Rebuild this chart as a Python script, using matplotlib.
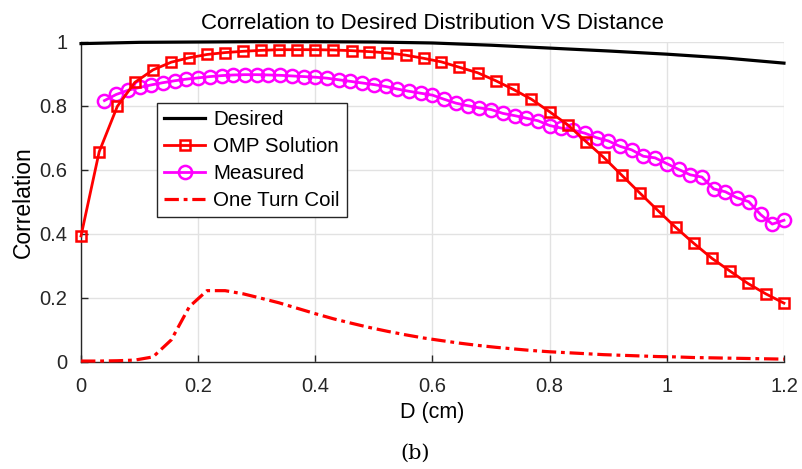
import matplotlib
matplotlib.use("Agg")
import matplotlib.pyplot as plt
from matplotlib.ticker import FuncFormatter

plt.rcParams['font.family'] = ['Liberation Sans', 'DejaVu Sans']

# OMP / One-turn-coil grid (40 samples from 0 to 1.2)
x_omp = [0.000, 0.031, 0.062, 0.092, 0.123, 0.154, 0.185, 0.215, 0.246, 0.277,
         0.308, 0.338, 0.369, 0.400, 0.431, 0.462, 0.492, 0.523, 0.554, 0.585,
         0.615, 0.646, 0.677, 0.708, 0.738, 0.769, 0.800, 0.831, 0.862, 0.892,
         0.923, 0.954, 0.985, 1.015, 1.046, 1.077, 1.108, 1.138, 1.169, 1.200]
omp = [0.393, 0.656, 0.798, 0.873, 0.912, 0.936, 0.950, 0.960, 0.966, 0.970,
       0.973, 0.975, 0.975, 0.975, 0.974, 0.972, 0.969, 0.965, 0.958, 0.948,
       0.937, 0.920, 0.903, 0.878, 0.851, 0.820, 0.781, 0.740, 0.688, 0.639,
       0.583, 0.527, 0.472, 0.420, 0.370, 0.323, 0.283, 0.245, 0.212, 0.183]
coil = [0.002, 0.002, 0.003, 0.005, 0.015, 0.068, 0.172, 0.222, 0.222, 0.212,
        0.198, 0.184, 0.167, 0.150, 0.134, 0.120, 0.107, 0.095, 0.084, 0.074,
        0.066, 0.058, 0.051, 0.045, 0.040, 0.035, 0.031, 0.028, 0.025, 0.022,
        0.020, 0.018, 0.016, 0.015, 0.013, 0.012, 0.011, 0.010, 0.009, 0.008]

# Desired
x_des = [0.0, 0.1, 0.2, 0.3, 0.4, 0.5, 0.6, 0.7, 0.8, 0.9, 1.0, 1.1, 1.2]
desired = [0.994, 0.998, 0.999, 1.000, 1.000, 0.999, 0.996, 0.989, 0.980, 0.971, 0.961, 0.949, 0.933]

# Measured
x_meas = [0.04, 0.06, 0.08, 0.10, 0.12, 0.14, 0.16, 0.18, 0.20, 0.22,
          0.24, 0.26, 0.28, 0.30, 0.32, 0.34, 0.36, 0.38, 0.40, 0.42,
          0.44, 0.46, 0.48, 0.50, 0.52, 0.54, 0.56, 0.58, 0.60, 0.62,
          0.64, 0.66, 0.68, 0.70, 0.72, 0.74, 0.76, 0.78, 0.80, 0.82,
          0.84, 0.86, 0.88, 0.90, 0.92, 0.94, 0.96, 0.98, 1.00, 1.02,
          1.04, 1.06, 1.08, 1.10, 1.12, 1.14, 1.16, 1.18, 1.20]
measured = [0.816, 0.835, 0.848, 0.857, 0.865, 0.872, 0.878, 0.883, 0.887, 0.891,
            0.894, 0.896, 0.897, 0.897, 0.896, 0.895, 0.893, 0.891, 0.889, 0.886,
            0.881, 0.876, 0.871, 0.866, 0.860, 0.852, 0.845, 0.839, 0.833, 0.820,
            0.808, 0.800, 0.793, 0.788, 0.776, 0.769, 0.761, 0.753, 0.738, 0.730,
            0.724, 0.714, 0.700, 0.690, 0.673, 0.662, 0.642, 0.637, 0.619, 0.601,
            0.584, 0.577, 0.540, 0.531, 0.512, 0.500, 0.460, 0.430, 0.442]

x_ticks = [0, 0.2, 0.4, 0.6, 0.8, 1.0, 1.2]
y_ticks = [0, 0.2, 0.4, 0.6, 0.8, 1.0]

fig = plt.figure(figsize=(8.03, 4.69), dpi=100)
ax = fig.add_axes([0.1009, 0.2288, 0.8754, 0.6823])

ax.plot(x_des, desired, color='black', lw=2.3, label='Desired', zorder=3,
        clip_on=False)
ax.plot(x_omp, omp, color='red', lw=2.0, marker='s', ms=7.5, mfc='none',
        mec='red', mew=1.8, label='OMP Solution', zorder=4, clip_on=False)
ax.plot(x_meas, measured, color='#ff00ff', lw=2.0, marker='o', ms=9.5, mfc='none',
        mec='#ff00ff', mew=1.8, label='Measured', zorder=3, clip_on=False)
ax.plot(x_omp, coil, color='red', lw=2.3, ls=(0, (4.5, 1.5, 1.2, 1.5)),
        label='One Turn Coil', zorder=3, clip_on=False)

ax.set_xlim(0, 1.2)
ax.set_ylim(0, 1)
ax.set_xticks(x_ticks)
ax.set_yticks(y_ticks)
fmt = FuncFormatter(lambda v, p: ('%g' % round(v, 2)))
ax.xaxis.set_major_formatter(fmt)
ax.yaxis.set_major_formatter(fmt)

ax.grid(True, color='#e2e2e2', lw=1.0)
ax.set_axisbelow(True)
for s in ['top', 'right']:
    ax.spines[s].set_visible(False)
for s in ['left', 'bottom']:
    ax.spines[s].set_color('#262626')
    ax.spines[s].set_linewidth(1.0)
ax.tick_params(direction='in', length=5, width=1, colors='#262626',
               labelsize=14.5)
ax.tick_params(axis='x', pad=11)
ax.tick_params(axis='y', pad=10)

ax.set_title('Correlation to Desired Distribution VS Distance', fontsize=16, pad=9)
ax.set_ylabel('Correlation', fontsize=16.5, labelpad=3)
ax.set_xlabel('D (cm)', fontsize=15.5, labelpad=4)

leg = ax.legend(loc='upper left', bbox_to_anchor=(0.108, 0.808), fontsize=14.8,
                frameon=True, fancybox=False, framealpha=1, edgecolor='#262626',
                borderpad=0.35, labelspacing=0.38, handlelength=2.0,
                handletextpad=0.4, borderaxespad=0)
leg.get_frame().set_linewidth(1.0)

fig.text(0.517, 0.034, '(b)', ha='center', va='center', fontsize=15,
         family=['DejaVu Serif'])

fig.savefig('out.png', dpi=100)
